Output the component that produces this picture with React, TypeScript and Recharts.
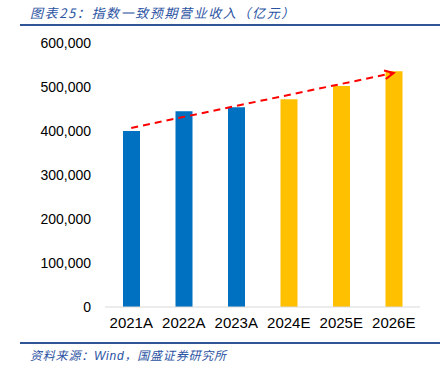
import { BarChart, Bar, XAxis, YAxis, Cell, ReferenceLine } from 'recharts';

const years = ['2021A', '2022A', '2023A', '2024E', '2025E', '2026E'];
const revenue = [400000, 445000, 454000, 472000, 502000, 536000];
const isForecast = [false, false, false, true, true, true];
const yTicks = [0, 100000, 200000, 300000, 400000, 500000, 600000];
const trendFrom = 407000;
const trendTo = 532000;

const data = years.map((year, i) => ({ year, revenue: revenue[i] }));

const TrendArrow = (props: any) => {
  const { x1, y1, x2, y2 } = props;
  const angle = Math.atan2(y2 - y1, x2 - x1);
  const len = 10;
  const spread = 0.45;
  const ax = x2 - len * Math.cos(angle - spread);
  const ay = y2 - len * Math.sin(angle - spread);
  const bx = x2 - len * Math.cos(angle + spread);
  const by = y2 - len * Math.sin(angle + spread);
  return (
    <g>
      <line x1={x1} y1={y1} x2={x2} y2={y2} stroke='#FF0000' strokeWidth={2} strokeDasharray='7 5' />
      <polyline points={`${ax},${ay} ${x2},${y2} ${bx},${by}`} fill='none' stroke='#FF0000' strokeWidth={2} />
    </g>
  );
};

const App = () => {
  return (
    <div style={{ position: 'absolute', left: 0, top: 0, width: 442, height: 373, background: '#fff', fontFamily: '"Liberation Sans", Arial, sans-serif' }}>
      <div
        style={{
          position: 'absolute',
          left: 30,
          top: 3,
          fontSize: 13,
          fontStyle: 'italic',
          letterSpacing: 1.6,
          color: '#2B53A3',
          fontFamily: '"Noto Sans CJK SC", sans-serif',
          whiteSpace: 'nowrap',
        }}
      >
        图表25：指数一致预期营业收入（亿元）
      </div>
      <div style={{ position: 'absolute', left: 20, top: 24, width: 420, height: 2, background: '#2F5597' }} />
      <div style={{ position: 'absolute', left: 0, top: 0 }}>
        <BarChart width={442} height={340} data={data} margin={{ top: 43, right: 22, left: 0, bottom: 0 }}>
          <XAxis
            dataKey='year'
            height={33}
            tickSize={0}
            tickMargin={10}
            axisLine={{ stroke: '#D9D9D9' }}
            tick={{ fontSize: 15, fill: '#000' }}
            interval={0}
          />
          <YAxis
            width={105}
            domain={[0, 600000]}
            ticks={yTicks}
            tickSize={0}
            tickMargin={14}
            axisLine={false}
            tick={{ fontSize: 14, fill: '#000' }}
            tickFormatter={(v: number) => v.toLocaleString('en-US')}
          />
          <Bar dataKey='revenue' barSize={17} isAnimationActive={false}>
            {data.map((d, i) => (
              <Cell key={d.year} fill={isForecast[i] ? '#FFC000' : '#0070C0'} />
            ))}
          </Bar>
          <ReferenceLine
            segment={[
              { x: years[0], y: trendFrom },
              { x: years[years.length - 1], y: trendTo },
            ]}
            shape={TrendArrow}
          />
        </BarChart>
      </div>
      <div style={{ position: 'absolute', left: 20, top: 342, width: 420, height: 2, background: '#2F5597' }} />
      <div
        style={{
          position: 'absolute',
          left: 30,
          top: 346,
          fontSize: 12,
          fontStyle: 'italic',
          letterSpacing: 0.8,
          color: '#2B53A3',
          fontFamily: '"Noto Sans CJK SC", sans-serif',
          whiteSpace: 'nowrap',
        }}
      >
        资料来源：<span style={{ fontFamily: '"Liberation Sans", Arial, sans-serif' }}>Wind</span>，国盛证券研究所
      </div>
    </div>
  );
};

export default App;
